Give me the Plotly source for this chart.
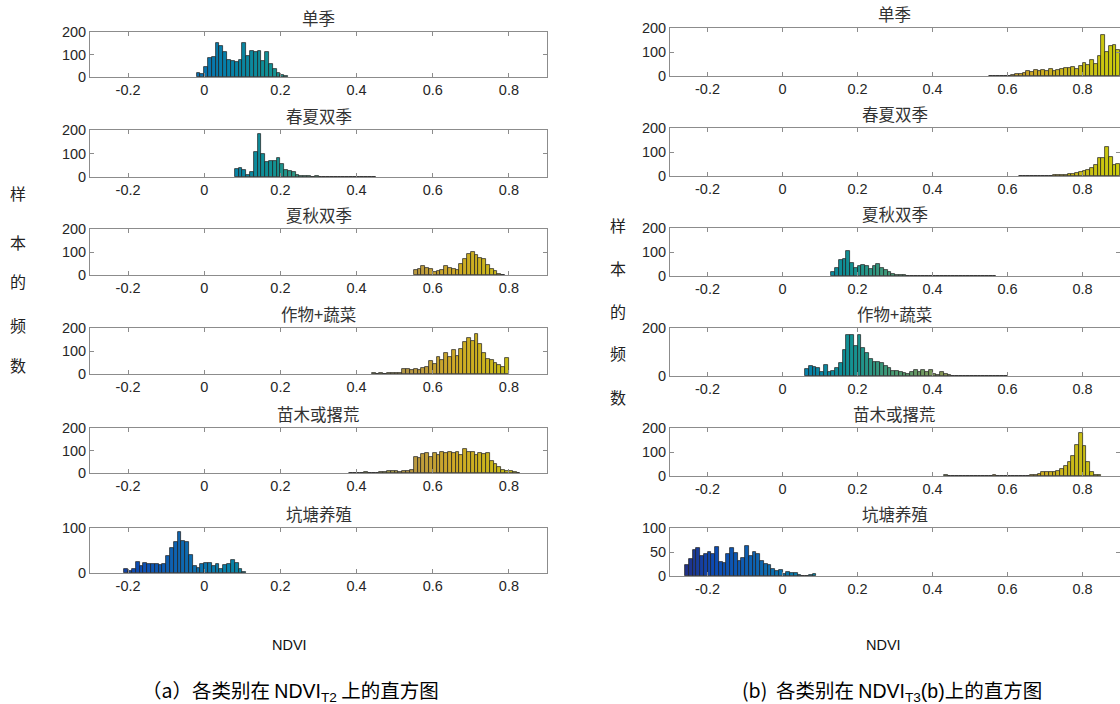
import numpy as np
import plotly.graph_objects as go

W, H = 1120, 704
X_RANGE = [-0.3, 0.9]
BIN_W = 0.01

titles = ["单季", "春夏双季", "夏秋双季", "作物+蔬菜", "苗木或撂荒", "坑塘养殖"]
x_tickvals = [-0.2, 0, 0.2, 0.4, 0.6, 0.8]
x_ticktext = ["-0.2", "0", "0.2", "0.4", "0.6", "0.8"]

# ---------------- panel (a): NDVI_T2 histograms (first bin left edge + counts per 0.01 bin)
a_starts = [-0.02, 0.08, 0.55, 0.44, 0.38, -0.21]
a_single = [20, 15, 45, 85, 90, 150, 140, 110, 75, 70, 65, 75, 150, 95, 115, 110,
            115, 70, 110, 60, 35, 20, 10, 4]
a_spring_summer = [35, 38, 30, 10, 20, 105, 185, 100, 65, 70, 70, 80, 55, 28, 25, 22,
                   10, 6, 5, 3, 2, 3, 2, 2, 1, 1, 1, 1, 1, 1, 1, 1, 1, 1, 1, 1, 1]
a_summer_autumn = [20, 28, 40, 32, 25, 15, 18, 20, 38, 30, 25, 20, 50, 70, 90, 100,
                   85, 72, 70, 45, 25, 18, 5, 2]
a_crop_veg = [3, 2, 3, 2, 4, 4, 5, 5, 20, 20, 18, 20, 18, 25, 30, 55, 45, 75, 60, 90,
              75, 105, 80, 110, 140, 155, 145, 175, 130, 90, 65, 60, 50, 40, 30, 70]
a_nursery = [1, 2, 1, 2, 3, 1, 2, 2, 4, 6, 8, 10, 8, 6, 7, 10, 15, 72, 65, 85, 90, 72,
             90, 78, 95, 90, 95, 90, 95, 82, 105, 92, 95, 82, 90, 85, 88, 55, 38, 25,
             12, 8, 10, 4, 2]
a_pond = [8, 5, 8, 25, 15, 22, 20, 20, 20, 18, 20, 38, 55, 70, 92, 72, 70, 40, 15, 12,
          20, 22, 22, 15, 20, 10, 18, 20, 28, 22, 8, 3]
a_counts = [a_single, a_spring_summer, a_summer_autumn, a_crop_veg, a_nursery, a_pond]
a_ymax = [200, 200, 200, 200, 200, 100]
a_yticks = [[0, 100, 200]] * 5 + [[0, 100]]

# ---------------- panel (b): NDVI_T3(b) histograms
b_starts = [0.55, 0.63, 0.13, 0.06, 0.43, -0.26]
b_single = [1, 1, 1, 1, 2, 2, 4, 8, 10, 12, 20, 18, 25, 22, 25, 22, 28, 20, 25, 30,
            35, 32, 38, 30, 40, 55, 45, 65, 50, 85, 170, 100, 125, 130, 110]
b_spring_summer = [1, 1, 1, 1, 1, 2, 2, 2, 2, 3, 3, 4, 6, 8, 10, 12, 15, 20, 25, 32,
                   45, 75, 75, 120, 80, 45, 50]
b_summer_autumn = [15, 35, 65, 70, 105, 55, 32, 40, 45, 40, 30, 40, 48, 32, 25, 18, 8,
                   4, 3, 3, 2, 2, 1, 1, 1, 1, 1, 1, 1, 1, 1, 1, 1, 1, 1, 1, 1, 1, 1,
                   1, 1, 1, 1, 1]
b_crop_veg = [30, 40, 38, 35, 15, 45, 18, 22, 35, 55, 110, 170, 170, 125, 170, 115, 95,
              70, 60, 60, 55, 40, 32, 22, 20, 15, 12, 10, 18, 25, 15, 25, 15, 25, 8,
              4, 15, 8, 3, 2, 1, 1, 1, 1, 1, 1, 1, 1, 1, 1, 1, 1, 1, 1]
b_nursery = [3, 1, 1, 1, 1, 1, 1, 1, 1, 1, 1, 1, 1, 4, 1, 1, 1, 1, 1, 1, 1, 1, 1, 3,
             5, 10, 15, 18, 16, 15, 22, 28, 40, 60, 85, 130, 180, 125, 60, 18, 5, 4]
b_pond = [22, 35, 55, 58, 42, 45, 50, 45, 60, 30, 28, 45, 58, 48, 32, 38, 62, 42, 50,
          45, 32, 25, 22, 15, 10, 12, 5, 8, 6, 6, 3, 1, 1, 3, 5]
b_counts = [b_single, b_spring_summer, b_summer_autumn, b_crop_veg, b_nursery, b_pond]
b_ymax = [200, 200, 200, 200, 200, 100]
b_yticks = [[0, 100, 200]] * 3 + [[0, 200], [0, 100, 200], [0, 50, 100]]

# ---------------- parula colour map (bars coloured by NDVI value)
PARULA = [(53, 42, 135), (15, 92, 221), (18, 125, 216), (7, 156, 207), (21, 177, 180),
          (89, 189, 140), (165, 190, 107), (225, 185, 82), (252, 206, 46),
          (245, 227, 30), (249, 251, 14)]
stops = np.linspace(0, 1, len(PARULA))
pr = np.array(PARULA, dtype=float)
SHADE = 0.82  # the printed figure is noticeably darker than the pure colormap


def parula(v):
    t = (v - X_RANGE[0]) / (X_RANGE[1] - X_RANGE[0])
    t = min(max(t, 0), 1)
    r, g, b = (np.interp(t, stops, pr[:, k]) * SHADE for k in range(3))
    return f"rgb({r:.0f},{g:.0f},{b:.0f})"


# ---------------- geometry (pixels)
left_x = [90 / W, 547 / W]
right_x = [670 / W, 1.0]
left_boxes = [(32, 77), (130, 177), (229, 275), (328, 374), (428, 473), (528, 573)]
right_boxes = [(28, 76), (128, 176), (228, 276), (328, 376), (428, 476), (528, 576)]

TICK_FONT = dict(family="Liberation Sans, Arial, sans-serif", size=14.5, color="#262626")
CJK = "Noto Sans CJK SC, sans-serif"
FRAME = "#8c8c8c"

fig = go.Figure()
layout = dict(width=W, height=H, margin=dict(l=0, r=0, t=0, b=0, autoexpand=False),
              paper_bgcolor="white", plot_bgcolor="white", showlegend=False,
              bargap=0, annotations=[])

panels = [(a_starts, a_counts, a_ymax, a_yticks, left_x, left_boxes, 0),
          (b_starts, b_counts, b_ymax, b_yticks, right_x, right_boxes, 6)]

for starts, counts_list, ymaxs, yticks, xdom, boxes, offset in panels:
    for i in range(6):
        n = offset + i + 1
        sfx = "" if n == 1 else str(n)
        counts = counts_list[i]
        centers = [round(starts[i] + (k + 0.5) * BIN_W, 4) for k in range(len(counts))]
        colors = [parula(c) for c in centers]
        fig.add_trace(go.Bar(x=centers, y=counts, width=BIN_W,
                             marker=dict(color=colors,
                                         line=dict(color="rgba(30,30,30,0.9)", width=0.8)),
                             xaxis="x" + sfx, yaxis="y" + sfx, hoverinfo="x+y"))
        top, bot = boxes[i]
        layout["xaxis" + sfx] = dict(
            domain=xdom, range=X_RANGE, anchor="y" + sfx, automargin=False,
            tickvals=x_tickvals, ticktext=x_ticktext, ticks="inside", ticklen=4,
            tickcolor=FRAME, showline=True, linecolor=FRAME, linewidth=1,
            mirror="allticks", showgrid=False, zeroline=False, tickfont=TICK_FONT)
        layout["yaxis" + sfx] = dict(
            domain=[1 - bot / H, 1 - top / H], range=[0, ymaxs[i]], anchor="x" + sfx,
            automargin=False,
            tickvals=yticks[i], ticks="inside", ticklen=4, tickcolor=FRAME,
            showline=True, linecolor=FRAME, linewidth=1, mirror="allticks",
            showgrid=False, zeroline=False, tickfont=TICK_FONT)
        layout["annotations"].append(dict(
            text=titles[i], xref="paper", yref="paper",
            x=(xdom[0] + xdom[1]) / 2, y=1 - (top - 14) / H,
            xanchor="center", yanchor="middle", showarrow=False,
            font=dict(family=CJK, size=16.5, color="#333333")))

# vertical y-axis labels (one character per line)
ylab_chars = ["样", "本", "的", "频", "数"]
left_ylab_y = [193, 242, 281, 325, 365]
right_ylab_y = [225, 268, 311, 353, 397]
for ch, yy in zip(ylab_chars, left_ylab_y):
    layout["annotations"].append(dict(text=ch, xref="paper", yref="paper", x=18 / W,
                                      y=1 - yy / H, showarrow=False, xanchor="center",
                                      yanchor="middle",
                                      font=dict(family=CJK, size=16, color="#222222")))
for ch, yy in zip(ylab_chars, right_ylab_y):
    layout["annotations"].append(dict(text=ch, xref="paper", yref="paper", x=618 / W,
                                      y=1 - yy / H, showarrow=False, xanchor="center",
                                      yanchor="middle",
                                      font=dict(family=CJK, size=16, color="#222222")))

# x-axis labels
for xx in (289, 883):
    layout["annotations"].append(dict(text="NDVI", xref="paper", yref="paper", x=xx / W,
                                      y=1 - 645 / H, showarrow=False, xanchor="center",
                                      yanchor="middle",
                                      font=dict(family="Liberation Sans, Arial", size=14.5,
                                                color="#111111")))

# captions
captions = [("（a）各类别在 <span style='font-family:Liberation Sans'>NDVI<sub>T2</sub></span> 上的直方图", 290),
            ("(b)  各类别在 <span style='font-family:Liberation Sans'>NDVI<sub>T3</sub>(b)</span>上的直方图", 892)]
for txt, xx in captions:
    layout["annotations"].append(dict(text=txt, xref="paper", yref="paper", x=xx / W,
                                      y=1 - 690 / H, showarrow=False, xanchor="center",
                                      yanchor="middle",
                                      font=dict(family=CJK, size=19.5, color="#000000")))

fig.update_layout(**layout)
fig.write_html("out.html", config={"displayModeBar": False},
               post_script="document.body.style.margin='0';"
                           "document.body.style.overflow='hidden';")
